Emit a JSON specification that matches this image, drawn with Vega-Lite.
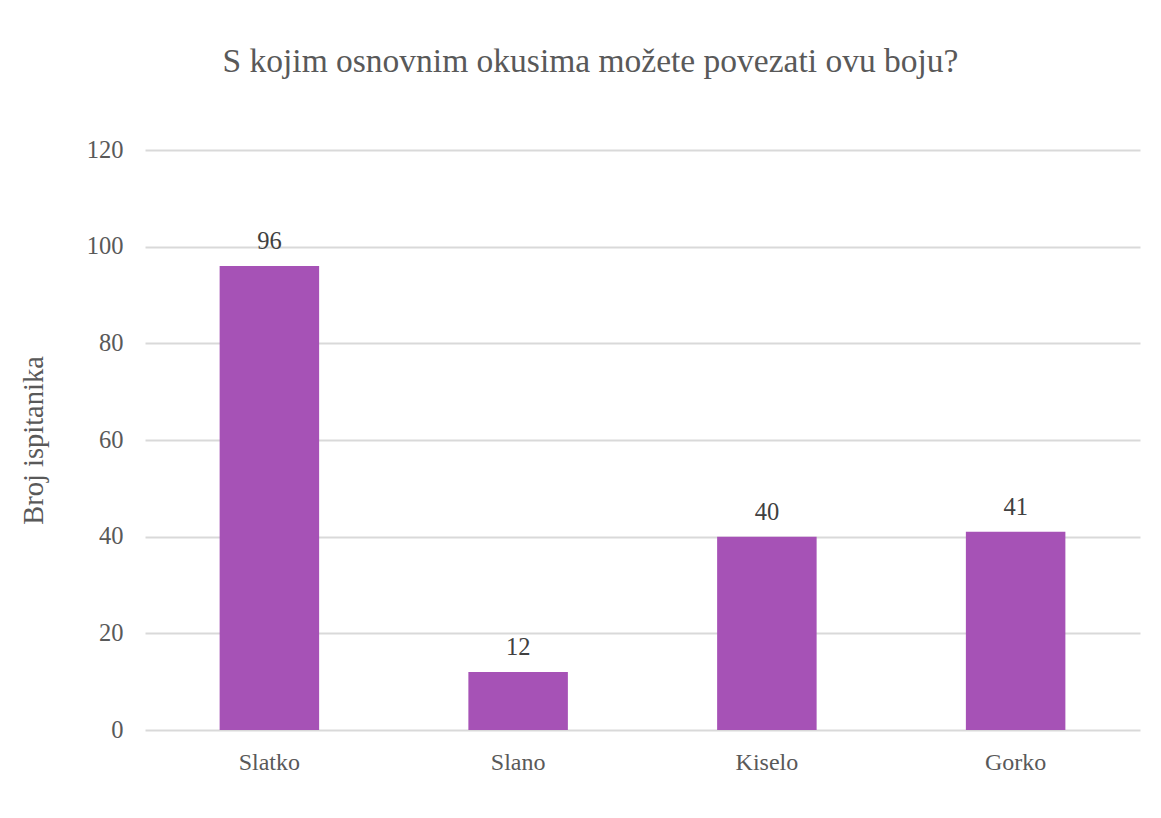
{
  "$schema": "https://vega.github.io/schema/vega-lite/v6.json",
  "autosize": {"type": "none"},
  "width": 995,
  "height": 580,
  "padding": {"left": 145, "top": 150, "right": 21, "bottom": 88},
  "background": "white",
  "title": {
    "text": "S kojim osnovnim okusima možete povezati ovu boju?",
    "font": "Liberation Serif",
    "fontSize": 33.5,
    "fontWeight": "normal",
    "color": "#595959",
    "anchor": "middle",
    "dx": -52,
    "offset": 58
  },
  "data": {
    "values": [
      {"okus": "Slatko", "broj": 96},
      {"okus": "Slano", "broj": 12},
      {"okus": "Kiselo", "broj": 40},
      {"okus": "Gorko", "broj": 41}
    ]
  },
  "encoding": {
    "x": {
      "field": "okus",
      "type": "nominal",
      "sort": null,
      "scale": {"paddingInner": 0.6, "paddingOuter": 0.3},
      "axis": {
        "title": null,
        "labelAngle": 0,
        "labelFont": "Liberation Serif",
        "labelFontSize": 24,
        "labelColor": "#595959",
        "labelPadding": 20,
        "ticks": false,
        "domain": false
      }
    },
    "y": {
      "field": "broj",
      "type": "quantitative",
      "scale": {"domain": [0, 120]},
      "axis": {
        "title": "Broj ispitanika",
        "titleFont": "Liberation Serif",
        "titleFontSize": 28.5,
        "titleFontWeight": "normal",
        "titleColor": "#595959",
        "titlePadding": 38,
        "values": [0, 20, 40, 60, 80, 100, 120],
        "labelFont": "Liberation Serif",
        "labelFontSize": 24.5,
        "labelColor": "#595959",
        "labelPadding": 22,
        "ticks": false,
        "domain": false,
        "gridColor": "#d9d9d9",
        "gridWidth": 2
      }
    }
  },
  "layer": [
    {"mark": {"type": "bar", "color": "#a652b6"}},
    {
      "mark": {
        "type": "text",
        "font": "Liberation Serif",
        "fontSize": 24.5,
        "color": "#404040",
        "baseline": "alphabetic",
        "dy": -17
      },
      "encoding": {"text": {"field": "broj", "type": "quantitative"}}
    }
  ],
  "config": {"view": {"stroke": null}}
}
